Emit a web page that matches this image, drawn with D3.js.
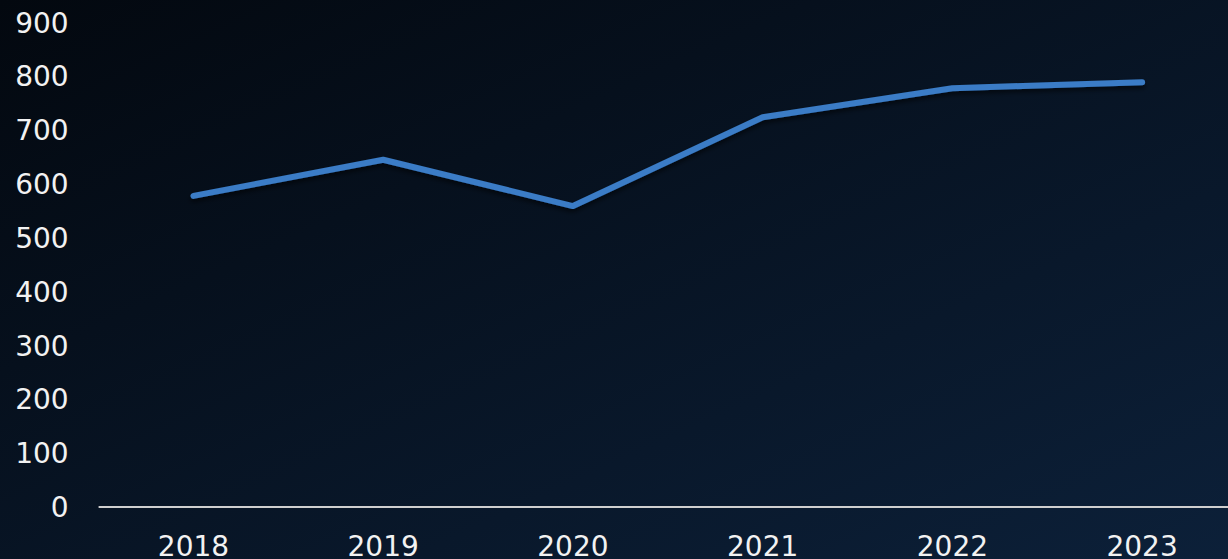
<!DOCTYPE html>
<html>
<head>
<meta charset="utf-8">
<script src="https://cdn.jsdelivr.net/npm/d3@7"></script>
<style>
  html, body { margin: 0; padding: 0; background: #06101c; }
  svg { display: block; }
  .tick-label { font-family: 'DejaVu Sans', Verdana, sans-serif; font-size: 28px; fill: #f2f2f2; }
</style>
</head>
<body>
<div id="chart"></div>
<script>
const years = ['2018', '2019', '2020', '2021', '2022', '2023'];
const values = [578, 645, 559, 724, 778, 789];
const yTicks = [0, 100, 200, 300, 400, 500, 600, 700, 800, 900];

const totalWidth = 1228;
const totalHeight = 559;
const margin = {top: 22.5, right: -9, bottom: 52.5, left: 98.6};
const width = totalWidth - margin.left - margin.right;
const height = totalHeight - margin.top - margin.bottom;

let svg = d3.select('#chart')
  .append('svg')
    .attr('width', totalWidth)
    .attr('height', totalHeight);

let defs = svg.append('defs');
let grad = defs.append('linearGradient')
    .attr('id', 'bg')
    .attr('x1', '0%').attr('y1', '0%')
    .attr('x2', '100%').attr('y2', '100%');
grad.append('stop').attr('offset', '0%').attr('stop-color', '#03080f');
grad.append('stop').attr('offset', '100%').attr('stop-color', '#0c2039');

let shadow = defs.append('filter')
    .attr('id', 'shadow')
    .attr('x', '-10%').attr('y', '-50%')
    .attr('width', '120%').attr('height', '200%');
shadow.append('feDropShadow')
    .attr('dx', 0).attr('dy', 3)
    .attr('stdDeviation', 2.5)
    .attr('flood-color', '#000')
    .attr('flood-opacity', 0.6);

svg.append('rect')
    .attr('width', totalWidth)
    .attr('height', totalHeight)
    .attr('fill', 'url(#bg)');

let g = svg.append('g')
    .attr('transform', 'translate(' + margin.left + ',' + margin.top + ')');

let x = d3.scaleBand().domain(years).range([0, width]);
let y = d3.scaleLinear().domain([0, 900]).range([height + 0.5, 0]);

// y labels
g.selectAll('.y-label')
  .data(yTicks)
  .enter().append('text')
    .attr('class', 'tick-label y-label')
    .attr('x', -30)
    .attr('y', function(d) {
      return y(d);
    })
    .attr('dy', '0.36em')
    .attr('text-anchor', 'end')
    .text(function(d) {
      return d;
    });

// x labels
g.selectAll('.x-label')
  .data(years)
  .enter().append('text')
    .attr('class', 'tick-label x-label')
    .attr('x', function(d) {
      return x(d) + x.bandwidth() / 2;
    })
    .attr('y', height + 49)
    .attr('text-anchor', 'middle')
    .text(function(d) {
      return d;
    });

// baseline
g.append('line')
    .attr('x1', 0)
    .attr('x2', width)
    .attr('y1', y(0))
    .attr('y2', y(0))
    .attr('stroke', '#cfcfcf')
    .attr('stroke-width', 2);

let line = d3.line()
  .x(function(d, i) {
    return x(years[i]) + x.bandwidth() / 2;
  })
  .y(function(d) {
    return y(d);
  });

g.append('path')
    .datum(values)
    .attr('d', line)
    .attr('fill', 'none')
    .attr('stroke', '#3a7cc6')
    .attr('stroke-width', 6)
    .attr('stroke-linecap', 'round')
    .attr('stroke-linejoin', 'round')
    .attr('filter', 'url(#shadow)');
</script>
</body>
</html>
